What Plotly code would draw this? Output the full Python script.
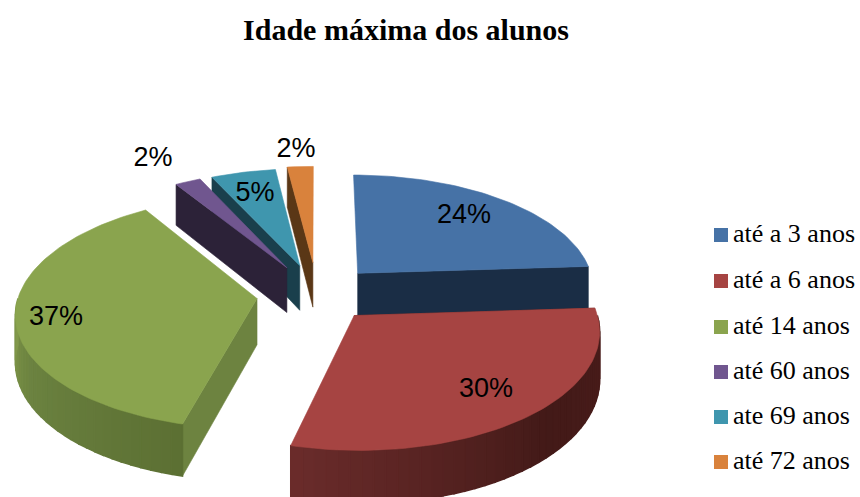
import math
import plotly.graph_objects as go

categories = ["até a 3 anos", "até a 6 anos", "até 14 anos", "até 60 anos", "ate 69 anos", "até 72 anos"]
values = [24, 30, 37, 2, 5, 2]

top_colors = ["#4672A6", "#A64442", "#8AA44E", "#70568F", "#3F96AE", "#D9823C"]
cut_colors = ["#1A2D45", "#5A2524", "#6D8340", "#2C2238", "#1A3F4C", "#5A3716"]
arc_shades = {1: [(90, "#491C1A"), (135, "#431A18"), (195, "#6B2C2B")],
              2: [(195, "#5C7033"), (240, "#6B8240"), (270, "#82994A")]}
explode = [0.255, 0.24, 0.254, 0.27, 0.267, 0.285]
label_xy = [(464, 216), (486, 390), (56, 318), (153, 159), (255, 194), (296, 150)]
legend_rows = [235, 281, 327, 372, 417, 462]

CX, CY, R, RY, K, H = 317, 294, 238, 114, 0.115, 46


def project(px, pv, drop=0.0):
    s = 1 / (1 - K * pv)
    return CX + R * px * s, CY + RY * pv * s + drop * s


def hexmix(a, b, t):
    ca = [int(a[i:i + 2], 16) for i in (1, 3, 5)]
    cb = [int(b[i:i + 2], 16) for i in (1, 3, 5)]
    return "#%02X%02X%02X" % tuple(round(x + (y - x) * t) for x, y in zip(ca, cb))


def shade(stops, deg):
    for (d0, c0), (d1, c1) in zip(stops, stops[1:]):
        if d0 <= deg <= d1:
            return hexmix(c0, c1, (deg - d0) / (d1 - d0))
    return stops[0][1] if deg < stops[0][0] else stops[-1][1]


total = sum(values)
slices = []
start = 0.0
for v, e in zip(values, explode):
    sweep = 360.0 * v / total
    mid = math.radians(start + sweep / 2)
    slices.append(dict(a0=start, a1=start + sweep, ou=e * math.sin(mid), ov=-e * math.cos(mid)))
    start += sweep


def rim(sl, deg, drop=0.0):
    t = math.radians(deg)
    return project(sl["ou"] + math.sin(t), sl["ov"] - math.cos(t), drop)


def poly(pts, color, width=0.6):
    xs = [p[0] for p in pts] + [pts[0][0]]
    ys = [p[1] for p in pts] + [pts[0][1]]
    return go.Scatter(x=xs, y=ys, mode="lines", fill="toself", fillcolor=color,
                      line=dict(color=color, width=width), hoverinfo="skip", showlegend=False)


fig = go.Figure()
for i in [4, 5, 3, 0, 2, 1]:
    sl = slices[i]
    apex = project(sl["ou"], sl["ov"])
    apex_low = project(sl["ou"], sl["ov"], H)
    edge = sl["a1"] if i == 0 else sl["a0"]
    fig.add_trace(poly([apex, rim(sl, edge), rim(sl, edge, H), apex_low], cut_colors[i]))
    if i in arc_shades:
        lo = max(sl["a0"], 90.0)
        hi = min(sl["a1"], 270.0)
        n = int((hi - lo) / 2.5) + 1
        for j in range(n):
            d0 = lo + (hi - lo) * j / n
            d1 = lo + (hi - lo) * (j + 1) / n
            fig.add_trace(poly([rim(sl, d0), rim(sl, d1), rim(sl, d1, H), rim(sl, d0, H)],
                               shade(arc_shades[i], (d0 + d1) / 2), width=1.5))
    n = max(4, int((sl["a1"] - sl["a0"]) / 1.5))
    arc = [rim(sl, sl["a0"] + (sl["a1"] - sl["a0"]) * j / n) for j in range(n + 1)]
    fig.add_trace(poly([apex] + arc, top_colors[i]))

fig.add_trace(go.Scatter(
    x=[p[0] for p in label_xy], y=[p[1] for p in label_xy],
    mode="text", text=[f"{v}%" for v in values], textposition="middle center",
    textfont=dict(family="Liberation Sans", size=27, color="#000000"),
    hoverinfo="skip", showlegend=False))

for name, color, row in zip(categories, top_colors, legend_rows):
    fig.add_trace(go.Scatter(x=[721], y=[row], mode="markers", name=name, showlegend=False, hoverinfo="skip",
                             marker=dict(symbol="square", size=14, color=color)))
    fig.add_trace(go.Scatter(x=[733], y=[row], mode="text", text=[name], textposition="middle right",
                             showlegend=False, hoverinfo="skip",
                             textfont=dict(family="Liberation Serif", size=26, color="#000000")))

fig.update_layout(
    width=860, height=497, margin=dict(l=0, r=0, t=0, b=0, pad=0, autoexpand=False),
    paper_bgcolor="#FFFFFF", plot_bgcolor="#FFFFFF",
    xaxis=dict(range=[0, 860], visible=False, fixedrange=True),
    yaxis=dict(range=[497, 0], visible=False, fixedrange=True),
    title=dict(text="<b>Idade máxima dos alunos</b>", x=406 / 860, xanchor="center", y=1 - 29 / 497, yanchor="middle",
               font=dict(family="Liberation Serif", size=30, color="#000000"), pad=dict(t=0, b=0, l=0, r=0),
               xref="paper", yref="container"),
    showlegend=False,
)
fig.write_html("out.html", config=dict(displayModeBar=False),
               post_script="document.body.style.margin='0';document.body.style.overflow='hidden';")
